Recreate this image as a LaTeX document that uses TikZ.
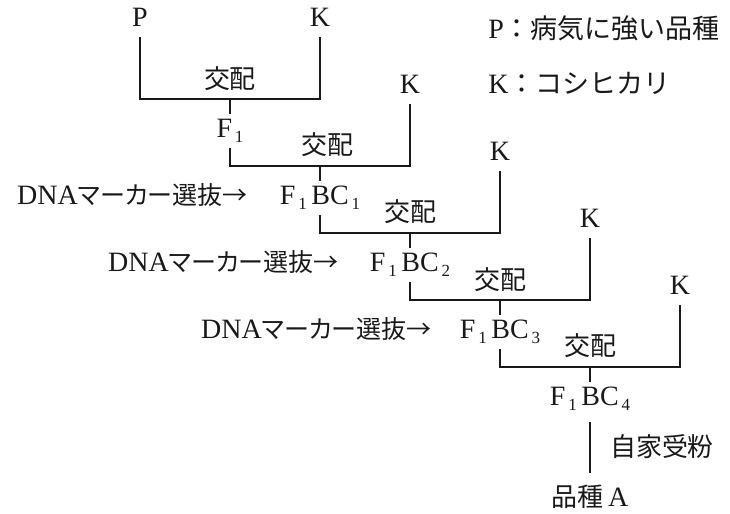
\documentclass[tikz,border=0pt]{standalone}
\usepackage{fontspec}
\setmainfont{Liberation Serif}
\newfontfamily\jp{Noto Sans CJK JP}
\newfontfamily\jpp[RawFeature=+palt]{Noto Sans CJK JP}
\usepackage{tikz}
\usetikzlibrary{positioning}
\definecolor{inkline}{RGB}{25,25,25}
\newcommand\idx[1]{\raisebox{-0.4ex}{\fontsize{8.5}{9}\selectfont\,#1}}

\begin{document}
\begin{tikzpicture}[
    x=0.5pt, y=-0.5pt,
    every node/.style={font=\fontsize{14}{16}\selectfont, inner sep=0pt, text=inkline},
    gen/.style={text height=8.5pt, text depth=2pt, inner ysep=3.2pt},
    cross/.style={font=\jp\fontsize{13}{15}\selectfont},
    marker/.style={gen, anchor=east},
    link/.style={draw=inkline, line width=1.1pt}
]
\useasboundingbox (0,0) rectangle (730,514);

% parents
\node[gen] (P)  at (140,20)  {P};
\node[gen] (K0) at (320,20)  {K};
\node[gen] (K1) at (410,87)  {K};
\node[gen] (K2) at (500,154) {K};
\node[gen] (K3) at (590,221) {K};
\node[gen] (K4) at (680,288) {K};

% offspring
\node[gen] (F0) at (230,131) {F\idx{1}};
\node[gen] (F1) at (320,198) {F\idx{1}\,BC\idx{1}};
\node[gen] (F2) at (410,265) {F\idx{1}\,BC\idx{2}};
\node[gen] (F3) at (500,332) {F\idx{1}\,BC\idx{3}};
\node[gen] (F4) at (590,399) {F\idx{1}\,BC\idx{4}};
\node[gen] (A)  at (590,500) {{\jp\fontsize{13}{15}\selectfont 品種}\,A};

% junctions
\coordinate (J0) at (230,99);
\coordinate (J1) at (320,166);
\coordinate (J2) at (410,233);
\coordinate (J3) at (500,300);
\coordinate (J4) at (590,367);

% crosses
\node[cross] (c0) at (230,79)  {交配};
\node[cross] (c1) at (327,145) {交配};
\node[cross] (c2) at (410,212) {交配};
\node[cross] (c3) at (500,280) {交配};
\node[cross] (c4) at (590,346) {交配};

\draw[link] (P)  |- (J0) -| (K0);  \draw[link] (J0) -- (F0);
\draw[link] (F0) |- (J1) -| (K1);  \draw[link] (J1) -- (F1);
\draw[link] (F1) |- (J2) -| (K2);  \draw[link] (J2) -- (F2);
\draw[link] (F2) |- (J3) -| (K3);  \draw[link] (J3) -- (F3);
\draw[link] (F3) |- (J4) -| (K4);  \draw[link] (J4) -- (F4);
\draw[link, shorten <=3pt, shorten >=5pt] (F4) -- (A);
\node[cross] (self) at (662,447) {自家受粉};

% marker selection
\node[marker] (m1) at (248,198) {DNA{\jpp\fontsize{12.5}{15}\selectfont マーカー選抜→}};
\node[marker] (m2) at (339,265) {DNA{\jpp\fontsize{12.5}{15}\selectfont マーカー選抜→}};
\node[marker] (m3) at (432,332) {DNA{\jpp\fontsize{12.5}{15}\selectfont マーカー選抜→}};

% legend
\node[anchor=west] (keyP) at (488,28) {P{\jp\fontsize{13.5}{16}\selectfont ：病気に強い品種}};
\node[anchor=west] (keyK) at (488,83) {K{\jp\fontsize{13.5}{16}\selectfont ：コシヒカリ}};

\end{tikzpicture}
\end{document}
